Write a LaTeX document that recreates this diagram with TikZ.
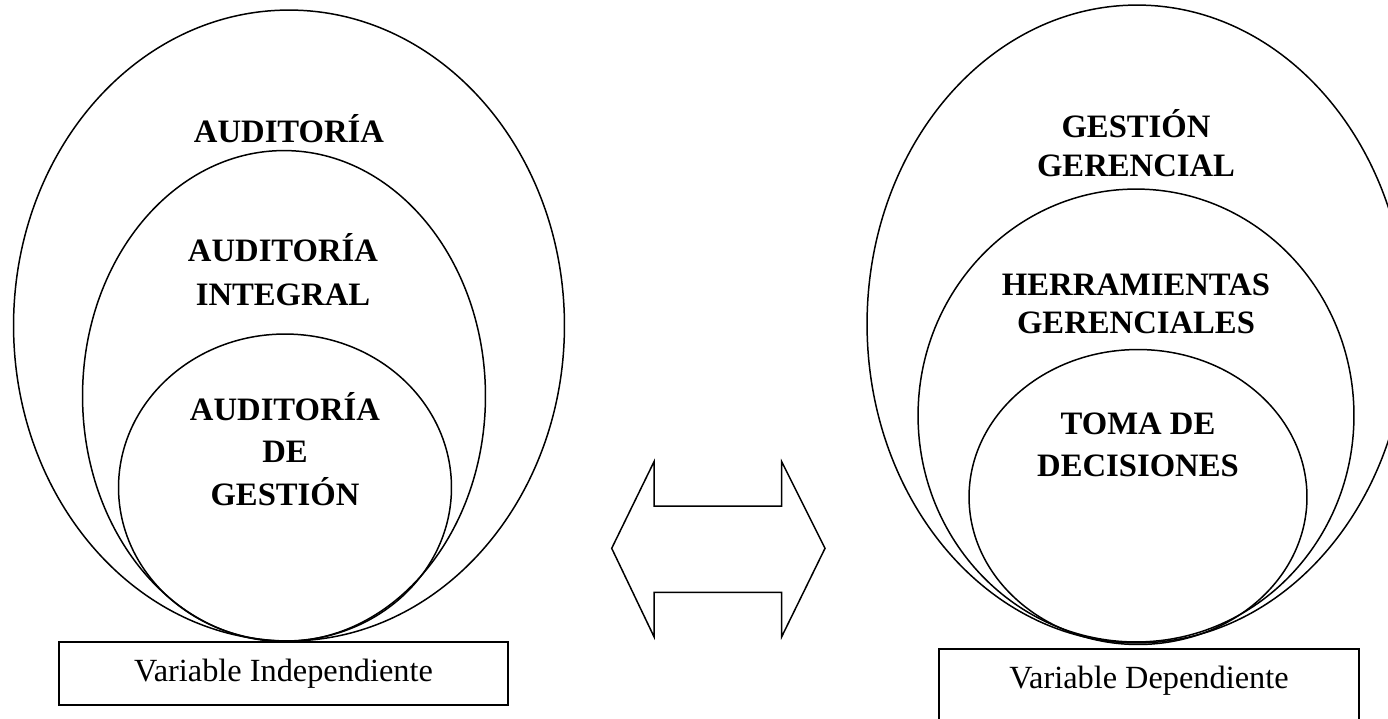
\documentclass[tikz,border=0pt]{standalone}
\usepackage{fontspec}
\setmainfont{Liberation Serif}
\usepackage{tikz}
\usetikzlibrary{shapes.geometric,positioning}

\begin{document}
\begin{tikzpicture}[x=0.02cm, y=-0.02cm, line width=0.85pt, inner sep=0pt, outer sep=0pt,
  circ/.style={draw, ellipse},
  lbl/.style={align=center, font=\bfseries\fontsize{18.6}{#1}\selectfont},
  lbl/.default=25,
  varbox/.style={draw, rectangle, line width=1.3pt},
  vartxt/.style={font=\fontsize{18.4}{22}\selectfont}]
%
\useasboundingbox (0,0) rectangle (1388,718);
\clip (0,0) rectangle (1388,718);
%
% variable independiente
\node (aud) [circ, minimum width=11.02cm, minimum height=12.62cm] at (289,325.5) {};
\node (audint) [circ, minimum width=8.06cm, minimum height=9.82cm] at (284,396) {};
\node (audges) [circ, minimum width=6.66cm, minimum height=6.14cm] at (285,487.5) {};
\node (vi) [varbox, minimum width=8.98cm, minimum height=1.26cm, vartxt] at (283.5,673.5) {Variable Independiente};
%
\node (audL) [lbl] at (289,129) {AUDITORÍA};
\node (audintL) [lbl] at (283,270) {AUDITORÍA\\INTEGRAL};
\node (audgesL) [lbl=24] at (285,449) {AUDITORÍA\\DE\\GESTIÓN};
%
% variable dependiente
\node (gg) [circ, minimum width=10.8cm, minimum height=12.76cm] at (1137,324) {};
\node (hg) [circ, minimum width=8.72cm, minimum height=9.06cm] at (1136,415.5) {};
\node (td) [circ, minimum width=6.76cm, minimum height=5.9cm] at (1138,497) {};
\node (vd) [varbox, minimum width=8.4cm, minimum height=1.72cm] at (1149,692) {};
\node (vdL) [vartxt] at (1149,680.5) {Variable Dependiente};
%
\node (ggL) [lbl=22.3] at (1136,143.5) {GESTIÓN\\GERENCIAL};
\node (hgL) [lbl=21.8] at (1136,304) {HERRAMIENTAS\\GERENCIALES};
\node (tdL) [lbl=24] at (1138,445) {TOMA DE\\DECISIONES};
%
% doble flecha
\draw[line join=miter] (611.7,548.3) -- (654,461.7) -- (654,506) -- (781.7,506) -- (781.7,461.7)
  -- (825,548.3) -- (781.7,636.7) -- (781.7,592.3) -- (654,592.3) -- (654,636.7) -- cycle;
\end{tikzpicture}
\end{document}
